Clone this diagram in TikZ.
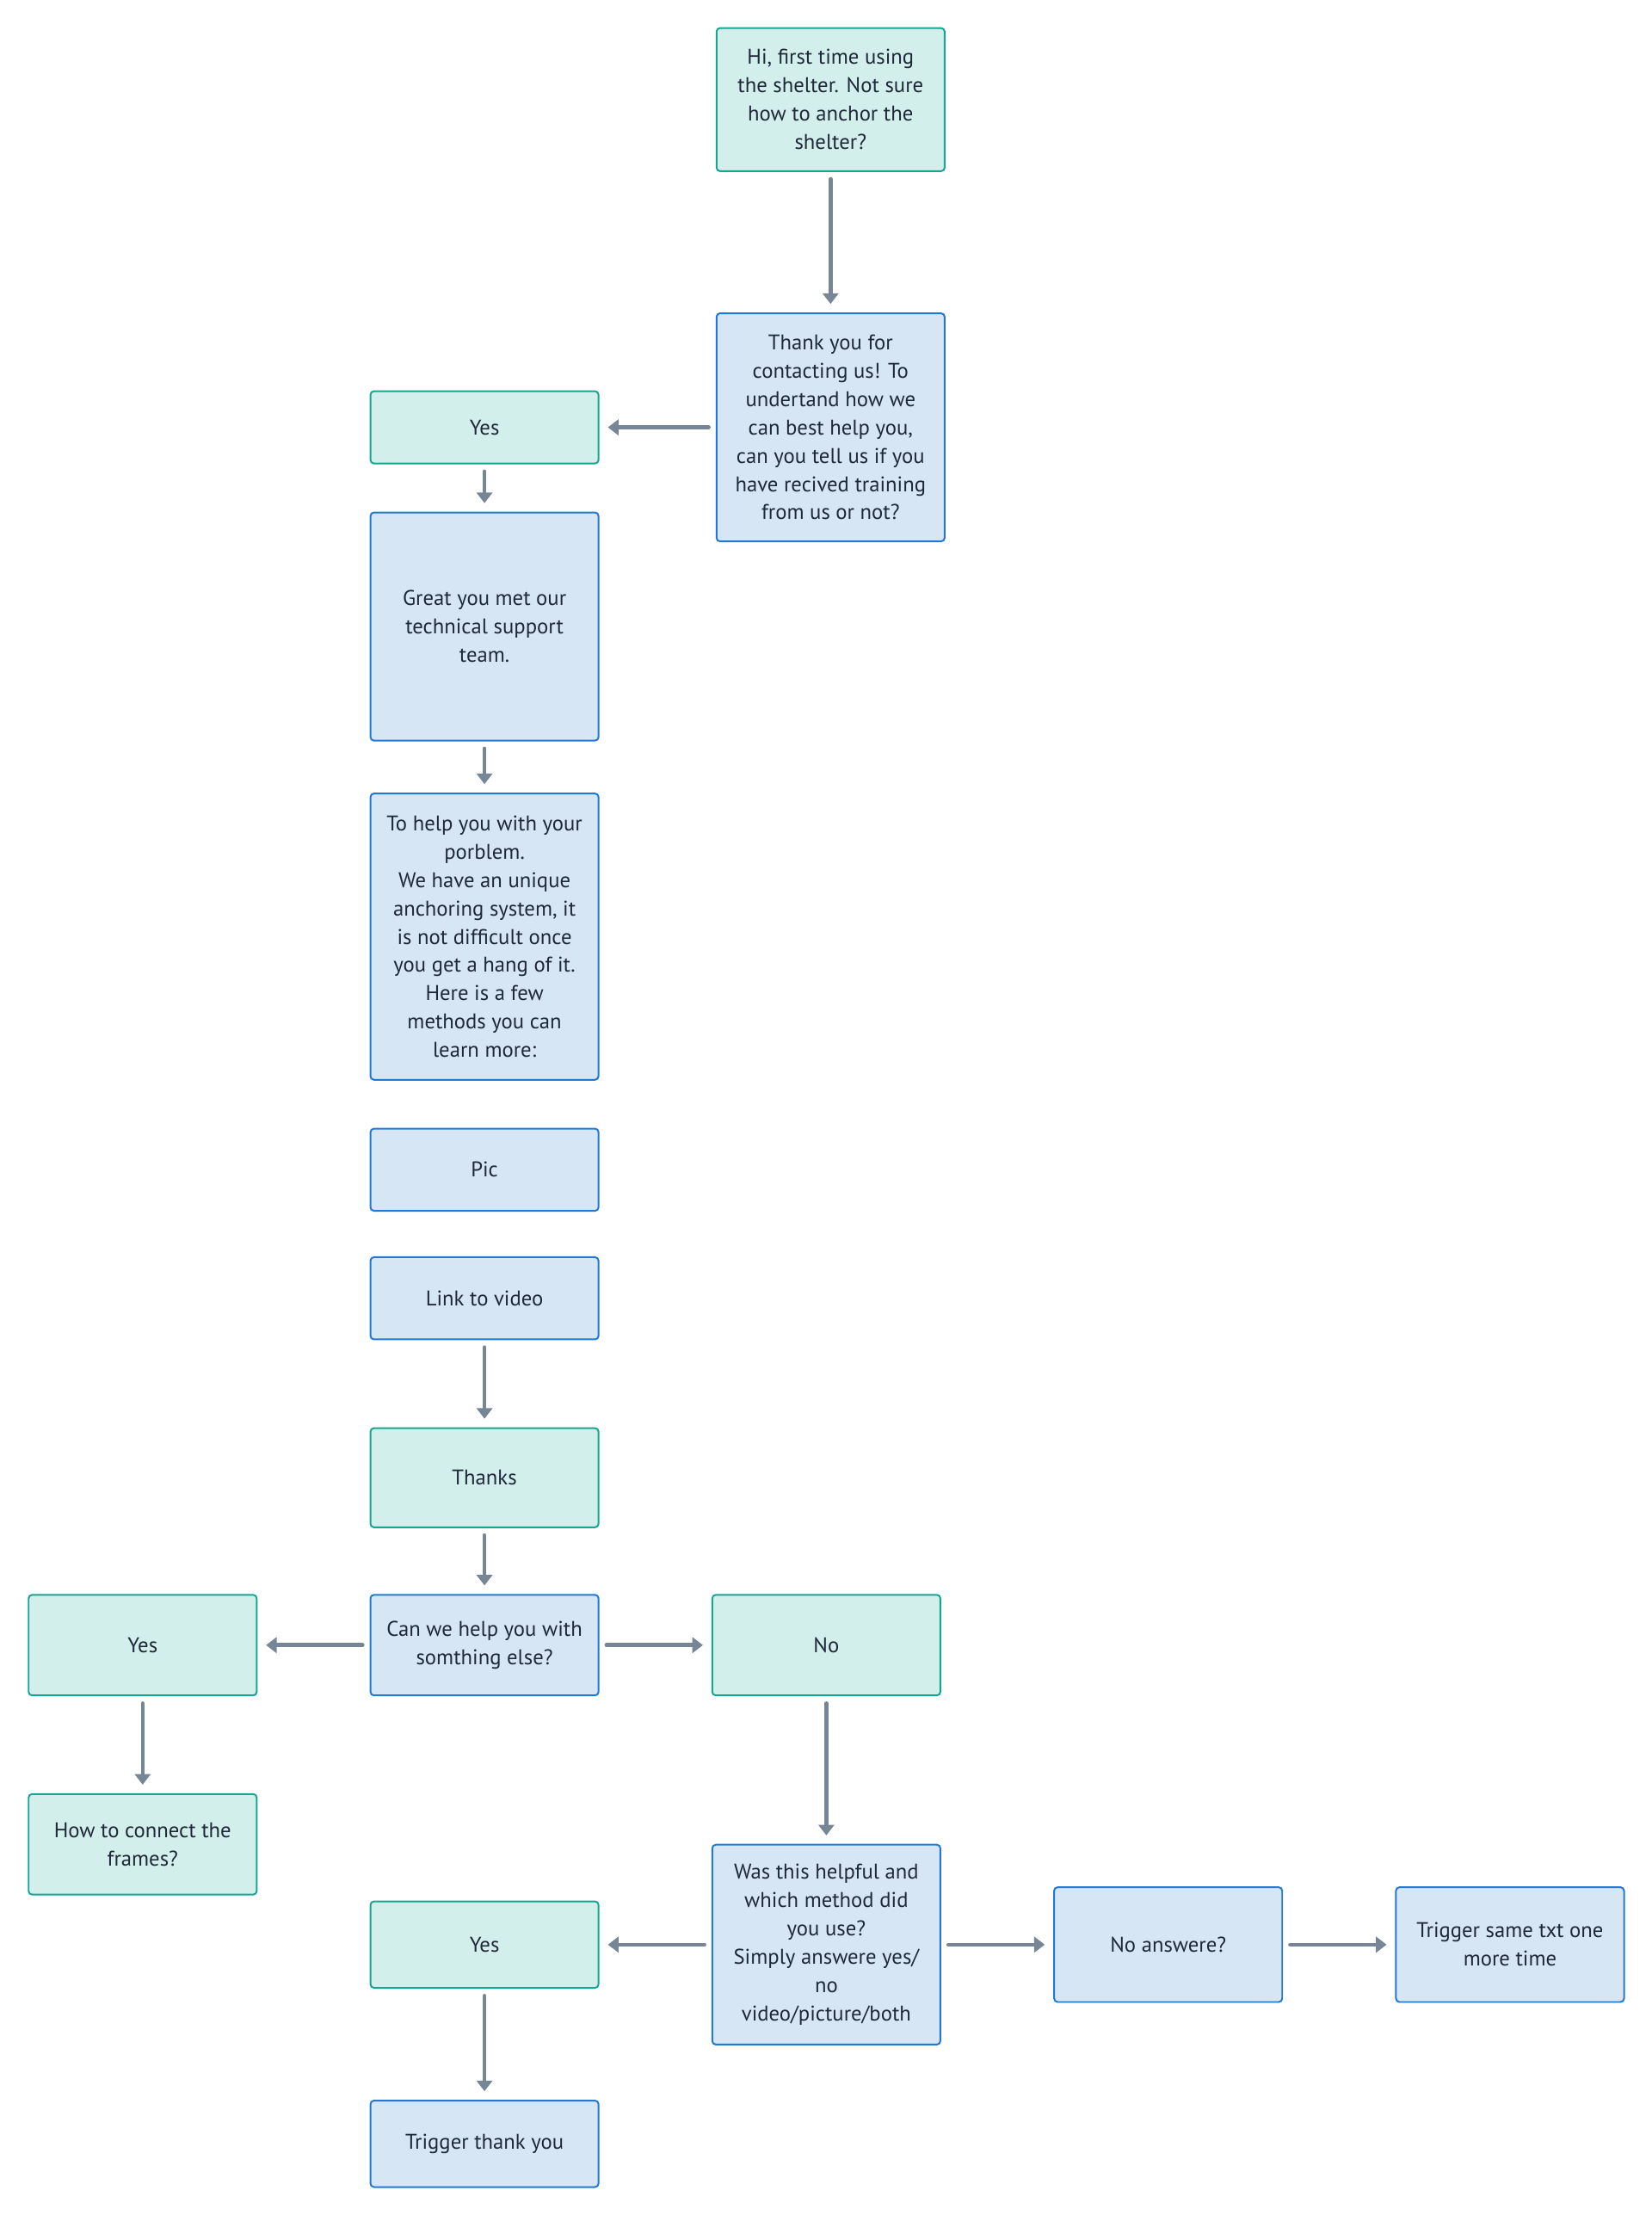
\documentclass[tikz,border=0pt]{standalone}
\usepackage{fontspec}
\setmainfont{PT Sans}
\usetikzlibrary{arrows.meta}

\definecolor{askfill}{RGB}{210,239,236}
\definecolor{askline}{RGB}{22,166,144}
\definecolor{replyfill}{RGB}{214,230,245}
\definecolor{replyline}{RGB}{33,121,212}
\definecolor{arrowgray}{RGB}{119,134,150}
\definecolor{inkdark}{RGB}{30,40,56}

\begin{document}
\begin{tikzpicture}[x=0.997pt,y=-0.997pt,
    box/.style={rectangle,rounded corners=2.5pt,line width=1.2pt,minimum width=161pt,
      inner sep=0pt,align=center,text=inkdark,
      font=\fontsize{15}{20}\selectfont},
    ask/.style={box,fill=askfill,draw=askline},
    reply/.style={box,fill=replyfill,draw=replyline},
    arr/.style={-{Triangle[width=11pt,length=7.5pt]},line width=2.8pt,arrowgray,
      line cap=round,shorten <=5pt,shorten >=6pt}]
    \useasboundingbox (0,0) rectangle (1169.5,1567.9);

    % Opening question
    \node[ask,minimum height=101pt] (hi) at (588,70.5) {Hi, first time using\\the shelter. Not sure\\how to anchor the\\shelter?};
    \node[reply,minimum height=161pt] (thank) at (588,302.5) {Thank you for\\contacting us! To\\undertand how we\\can best help you,\\can you tell us if you\\have recived training\\from us or not?};

    % Trained branch
    \node[ask,minimum height=51pt] (yesA) at (343,302.5) {Yes};
    \node[reply,minimum height=161pt] (great) at (343,443.5) {Great you met our\\technical support\\team.};
    \node[reply,minimum height=202pt] (tohelp) at (343,663) {To help you with your\\porblem.\\We have an unique\\anchoring system, it\\is not difficult once\\you get a hang of it.\\Here is a few\\methods you can\\learn more:};
    \node[reply,minimum height=58pt] (pic) at (343,828) {Pic};
    \node[reply,minimum height=58pt] (link) at (343,919) {Link to video};
    \node[ask,minimum height=70pt] (thanks) at (343,1046) {Thanks};
    \node[reply,minimum height=71pt] (canhelp) at (343,1164.5) {Can we help you with\\somthing else?};

    % Follow up
    \node[ask,minimum height=71pt] (yesB) at (101,1164.5) {Yes};
    \node[ask,minimum height=71pt] (connect) at (101,1305.5) {How to connect the\\frames?};
    \node[ask,minimum height=71pt] (no) at (585,1164.5) {No};
    \node[reply,minimum height=141pt] (helpful) at (585,1376.5) {Was this helpful and\\which method did\\you use?\\Simply answere yes/\\no\\video/picture/both};
    \node[ask,minimum height=61pt] (yesC) at (343,1376.5) {Yes};
    \node[reply,minimum height=61pt] (trigthank) at (343,1517.5) {Trigger thank you};
    \node[reply,minimum height=81pt] (noanswer) at (827,1376.5) {No answere?};
    \node[reply,minimum height=81pt] (trigsame) at (1069,1376.5) {Trigger same txt one\\more time};

    % Arrows
    \draw[arr] (hi) -- (thank);
    \draw[arr] (thank) -- (yesA);
    \draw[arr] (yesA) -- (great);
    \draw[arr] (great) -- (tohelp);
    \draw[arr] (link) -- (thanks);
    \draw[arr] (thanks) -- (canhelp);
    \draw[arr] (canhelp) -- (yesB);
    \draw[arr] (canhelp) -- (no);
    \draw[arr] (yesB) -- (connect);
    \draw[arr] (no) -- (helpful);
    \draw[arr] (helpful) -- (yesC);
    \draw[arr] (helpful) -- (noanswer);
    \draw[arr] (noanswer) -- (trigsame);
    \draw[arr] (yesC) -- (trigthank);
  \end{tikzpicture}
\end{document}
